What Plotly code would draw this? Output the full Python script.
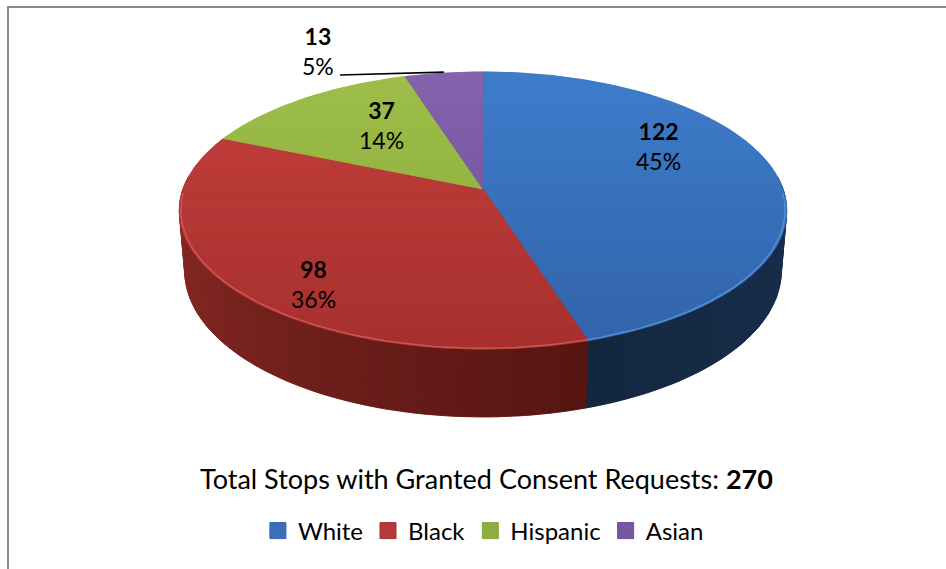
import numpy as np
import plotly.graph_objects as go

# ---- data -------------------------------------------------------------
categories = ["White", "Black", "Hispanic", "Asian"]
counts = [122, 98, 37, 13]
chart_title = "Total Stops with Granted Consent Requests:"

# ---- styling ----------------------------------------------------------
top_light = ["#3E7DCB", "#C63F3C", "#9EBF49", "#8363AC"]
top_dark = ["#3163AA", "#A6302E", "#87A63B", "#6C4E95"]
side_start = ["#213E67", "#561512", "#5E7628", "#4A3468"]   # colour at the slice's clockwise start
side_end = ["#13273F", "#9A302C", "#6E8A2F", "#563C78"]     # colour at the slice's clockwise end
legend_colors = ["#3A70BA", "#B8373A", "#8DAE3E", "#7658A0"]

FONT = "Lato"
W, H = 946, 569

# camera for the tilted disc (page pixels, y grows downward)
CX0, CY0 = 483, 189          # where the disc centre lands on the page
FOCAL = 1722.0               # focal length in px
DIST = 5.74                  # camera distance in disc radii
TILT = np.radians(26.8)      # elevation of the view
THICK = 0.229                # disc thickness in disc radii

# label block centres for each slice
label_pos = [(658, 146), (313, 284), (381, 125), (318, 51)]
leader_start = (340, 75)


def hex_to_rgb(h):
    h = h.lstrip("#")
    return np.array([int(h[i:i + 2], 16) for i in (0, 2, 4)], dtype=float)


def mix(c1, c2, t):
    a, b = hex_to_rgb(c1), hex_to_rgb(c2)
    r = a + (b - a) * t
    return "rgb(%d,%d,%d)" % tuple(np.clip(np.round(r), 0, 255))


def proj(theta_deg, r=1.0, bottom=False):
    """Project a disc point (angle clockwise from the far side) to the page."""
    t = np.radians(theta_deg)
    X, Z = r * np.sin(t), r * np.cos(t)
    Y = -THICK if bottom else 0.0
    c, s = np.cos(TILT), np.sin(TILT)
    yc = Y * c + Z * s
    zc = DIST + Z * c - Y * s
    return CX0 + FOCAL * X / zc, CY0 - FOCAL * yc / zc


def clip_half(poly, y_lim, keep_above):
    """Sutherland-Hodgman clip of a polygon against a horizontal line."""
    out = []
    n = len(poly)
    for i in range(n):
        p, q = poly[i], poly[(i + 1) % n]
        pin = p[1] >= y_lim if keep_above else p[1] <= y_lim
        qin = q[1] >= y_lim if keep_above else q[1] <= y_lim
        if pin:
            out.append(p)
        if pin != qin:
            t = (y_lim - p[1]) / (q[1] - p[1])
            out.append((p[0] + t * (q[0] - p[0]), y_lim))
    return out


def poly_trace(pts, color, hover=None):
    xs = [p[0] for p in pts] + [pts[0][0]]
    ys = [p[1] for p in pts] + [pts[0][1]]
    return go.Scatter(
        x=xs, y=ys, mode="lines", fill="toself", fillcolor=color,
        line=dict(color=color, width=0.6), hoverinfo="text" if hover else "skip",
        hoveron="fills" if hover else None,
        text=hover, showlegend=False,
    )


total = sum(counts)
fractions = [c / total for c in counts]
starts = np.concatenate([[0.0], np.cumsum(fractions)[:-1]]) * 360.0
ends = np.cumsum(fractions) * 360.0
pcts = [f"{round(f * 100):.0f}%" for f in fractions]

traces = []

# ---- side walls (front part of the rim), back-most strips first --------
WALL_FROM, WALL_TO = 85.0, 275.0
strips = []
for i, (a0, a1) in enumerate(zip(starts, ends)):
    s0, s1 = max(a0, WALL_FROM), min(a1, WALL_TO)
    if s1 <= s0:
        continue
    steps = np.linspace(s0, s1, max(2, int((s1 - s0) / 1.5) + 1))
    upper = [proj(t) for t in steps]
    lower = [proj(t, bottom=True) for t in steps[::-1]]
    traces.append(poly_trace(upper + lower, mix(side_start[i], side_end[i], 0.5)))
    for k in range(len(steps) - 1):
        ta, tb = steps[k], steps[k + 1]
        frac = ((ta + tb) / 2 - a0) / (a1 - a0)
        quad = [proj(ta), proj(tb), proj(tb, bottom=True), proj(ta, bottom=True)]
        strips.append((np.cos(np.radians((ta + tb) / 2)), quad,
                       mix(side_start[i], side_end[i], frac)))
for _, quad, col in sorted(strips, key=lambda s: -s[0]):
    traces.append(poly_trace(quad, col))

# ---- top faces with a soft vertical gradient ---------------------------
y_top, y_bot = proj(0)[1], proj(180)[1]
bands = np.linspace(y_top, y_bot, 25)
for i, (a0, a1) in enumerate(zip(starts, ends)):
    arc = np.linspace(a0, a1, max(3, int((a1 - a0) * 1.5) + 1))
    wedge = [proj(0, r=0.0)] + [proj(t) for t in arc]
    hover = f"{categories[i]}: {counts[i]} ({pcts[i]})"
    traces.append(poly_trace(wedge, mix(top_light[i], top_dark[i], 0.5), hover))
    for k in range(len(bands) - 1):
        piece = clip_half(wedge, bands[k], True)
        if len(piece) < 3:
            continue
        piece = clip_half(piece, bands[k + 1], False)
        if len(piece) < 3:
            continue
        t = (k + 0.5) / (len(bands) - 1)
        traces.append(poly_trace(piece, mix(top_light[i], top_dark[i], t)))

# subtle bevel highlight along the front rim
for i, (a0, a1) in enumerate(zip(starts, ends)):
    s0, s1 = max(a0, 92.0), min(a1, 268.0)
    if s1 <= s0:
        continue
    arc = np.linspace(s0, s1, 80)
    pts = [proj(t, r=0.995) for t in arc]
    traces.append(go.Scatter(
        x=[p[0] for p in pts], y=[p[1] for p in pts], mode="lines",
        line=dict(color=mix(top_light[i], "#FFFFFF", 0.12), width=1.5),
        hoverinfo="skip", showlegend=False,
    ))

# leader line for the smallest slice
end_pt = proj((starts[3] + ends[3]) / 2)
traces.append(go.Scatter(
    x=[leader_start[0], end_pt[0]], y=[leader_start[1], end_pt[1] - 1],
    mode="lines", line=dict(color="#000000", width=1.6),
    hoverinfo="skip", showlegend=False,
))

# legend entries
for i, name in enumerate(categories):
    traces.append(go.Scatter(
        x=[None], y=[None], mode="markers", name=name,
        marker=dict(symbol="square", size=16, color=legend_colors[i],
                    line=dict(color=top_dark[i], width=1)),
    ))

fig = go.Figure(traces)

annotations = []
for i in range(len(categories)):
    lx, ly = label_pos[i]
    annotations.append(dict(
        x=lx, y=ly, xref="x", yref="y", showarrow=False,
        text=f"<b>{counts[i]}</b><br>{pcts[i]}", align="center",
        font=dict(family=FONT, size=23, color="#000000"),
    ))
annotations.append(dict(
    x=486, y=478, xref="x", yref="y", showarrow=False,
    text=f"{chart_title} <b>{total}</b>",
    font=dict(family=FONT, size=27, color="#000000"),
))

fig.update_layout(
    width=W, height=H,
    margin=dict(l=0, r=0, t=0, b=0),
    paper_bgcolor="#FFFFFF", plot_bgcolor="#FFFFFF",
    xaxis=dict(range=[0, W], visible=False, fixedrange=True),
    yaxis=dict(range=[H, 0], visible=False, fixedrange=True),
    annotations=annotations,
    showlegend=True,
    legend=dict(
        orientation="h", x=0.511, xanchor="center", y=1 - 531 / H, yanchor="middle",
        font=dict(family=FONT, size=24, color="#000000"),
        itemwidth=30, bgcolor="rgba(0,0,0,0)",
    ),
    shapes=[dict(
        type="rect", xref="x", yref="y", x0=8, y0=7, x1=W + 10, y1=H + 10,
        line=dict(color="#8A8A8A", width=2), fillcolor="rgba(0,0,0,0)", layer="above",
    )],
    hovermode="closest",
)

fig.write_html("out.html")
